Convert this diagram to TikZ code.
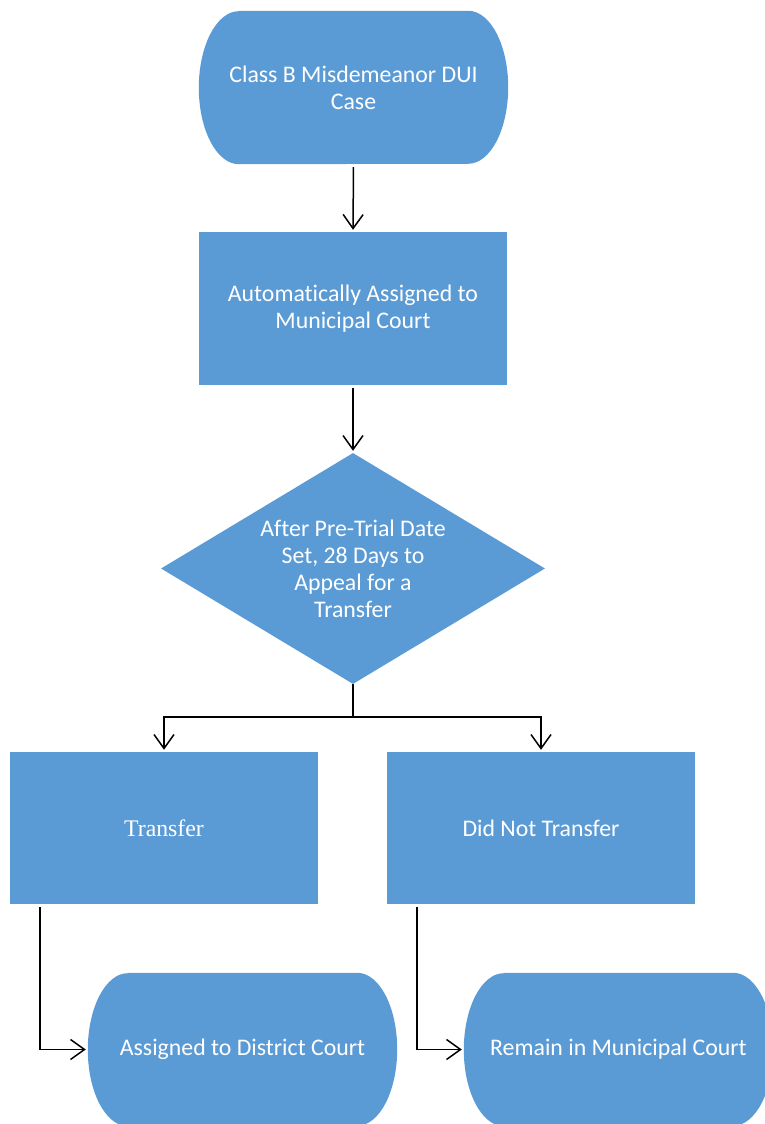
\documentclass[tikz,border=0pt]{standalone}
\usepackage{fontspec}
\setmainfont[RawFeature=-liga]{Carlito}
\newfontfamily\serifface{Liberation Serif}
\usetikzlibrary{arrows.meta,shapes.geometric,backgrounds,calc}
\definecolor{boxblue}{HTML}{5B9BD5}
\tikzset{
  txt/.style={text=white,font=\fontsize{23.8}{27}\selectfont,align=center,inner sep=0pt},
  procbox/.style={txt,rectangle,fill=boxblue,minimum width=308pt,minimum height=153pt},
  termnode/.style={txt,rectangle,minimum width=309pt,minimum height=153pt},
  decision/.style={txt,diamond,fill=boxblue,aspect=1.66,minimum width=384pt,minimum height=231pt},
  conn/.style={draw=black,line width=1.5pt},
  arr/.style={conn,-{Straight Barb[length=14pt,width=20pt,line width=1.5pt]},shorten >=2pt}
}
\newcommand{\termshape}[1]{%
  \fill[boxblue] ($(#1.north west)+(40pt,0)$) -- ($(#1.north east)+(-40pt,0)$)
    arc[start angle=90,end angle=-90,x radius=40pt,y radius=76.5pt]
    -- ($(#1.south west)+(40pt,0)$)
    arc[start angle=270,end angle=90,x radius=40pt,y radius=76.5pt] -- cycle;}
\begin{document}
\begin{tikzpicture}[x=1pt,y=1pt]
\useasboundingbox (0,0) rectangle (765,1124);
\node[termnode] (t1) at (353.5,1036.5) {Class B Misdemeanor DUI\\Case};
\node[procbox] (b2) at (353,815.5) {Automatically Assigned to\\Municipal Court};
\node[decision] (d) at (353,555.5) {After Pre-Trial Date\\Set, 28 Days to\\Appeal for a\\Transfer};
\node[procbox,minimum height=152pt] (tr) at (164,296) {\serifface Transfer};
\node[procbox,minimum height=152pt] (dnt) at (541,296) {Did Not Transfer};
\node[termnode] (as) at (242.5,74.5) {Assigned to District Court};
\node[termnode] (rm) at (618.5,74.5) {Remain in Municipal Court};
\begin{scope}[on background layer]
\termshape{t1}
\termshape{as}
\termshape{rm}
\end{scope}
\draw[arr,shorten <=3pt] (t1.south) -- (b2.north);
\draw[arr,shorten <=3pt] (b2.south) -- (d.north);
\draw[conn] (d.south) -- ++(0,-33) coordinate (j);
\draw[arr] (j) -| (tr.north);
\draw[arr] (j) -| (dnt.north);
\draw[arr,shorten <=3pt] ([xshift=30pt]tr.south west) |- (as.west);
\draw[arr,shorten <=3pt] ([xshift=30pt]dnt.south west) |- (rm.west);
\end{tikzpicture}
\end{document}
